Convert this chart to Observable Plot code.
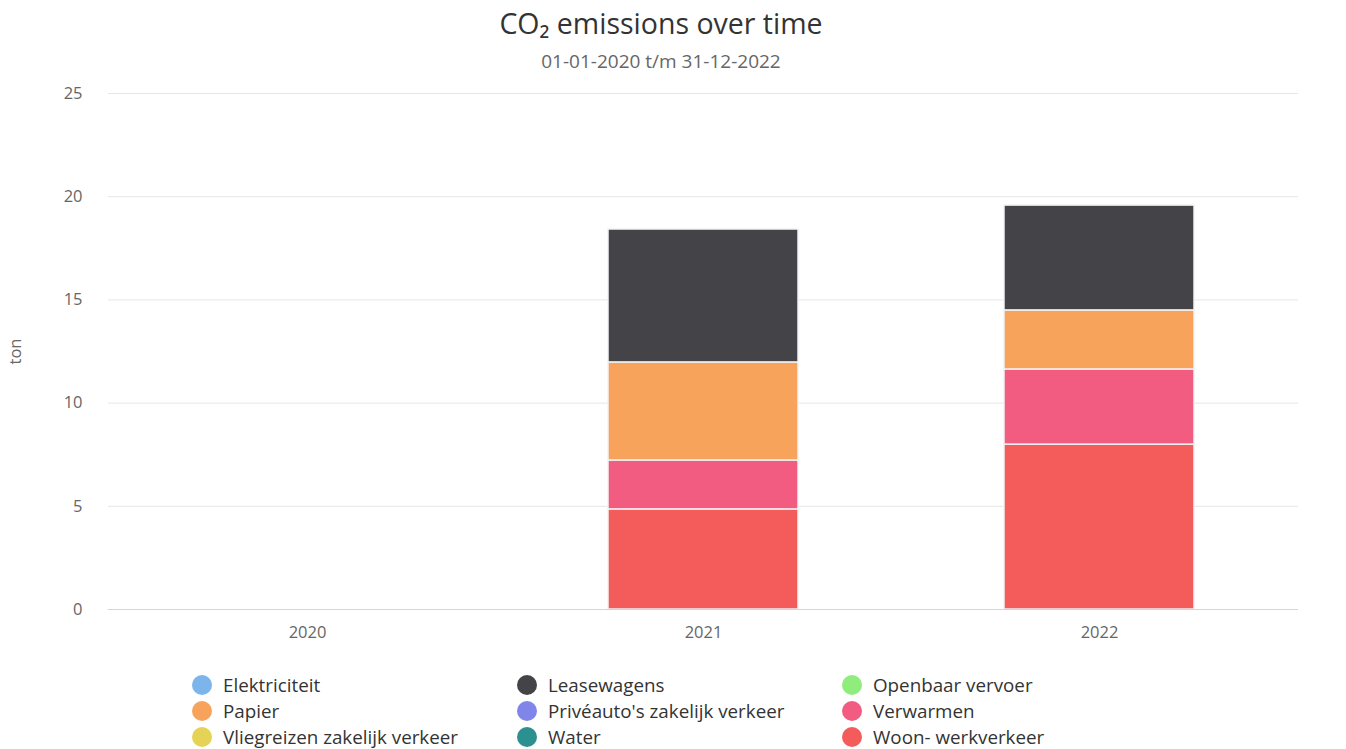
<!DOCTYPE html>
<html>
<head>
<meta charset="utf-8">
<script src="https://cdn.jsdelivr.net/npm/d3@7/dist/d3.min.js"></script>
<script src="https://cdn.jsdelivr.net/npm/@observablehq/plot@0.6/dist/plot.umd.min.js"></script>
<style>
  html, body { margin: 0; padding: 0; background: #fff; font-family: "Open Sans", sans-serif; }
  #wrap { width: 1346px; height: 749px; position: relative; }
  #title { position: absolute; top: 3px; left: 0; width: 1322px; text-align: center; font-size: 28.5px; color: #333; line-height: 40px; }
  #subtitle { position: absolute; top: 48px; left: 0; width: 1322px; text-align: center; font-size: 19px; color: #666; line-height: 26px; }
  #chart { position: absolute; top: 80px; left: 0; }
  #legend { position: absolute; top: 673px; left: 192px; display: grid; grid-template-columns: 325px 325px 325px; row-gap: 3px; }
  .item { display: flex; align-items: center; font-size: 18.8px; color: #333; height: 23px; white-space: nowrap; }
  .dot { width: 20px; height: 20px; border-radius: 50%; margin-right: 11px; flex: none; }
</style>
</head>
<body>
<div id="wrap">
  <div id="title">CO₂ emissions over time</div>
  <div id="subtitle">01-01-2020 t/m 31-12-2022</div>
  <div id="chart"></div>
  <div id="legend"></div>
</div>
<script>
const years = ["2020", "2021", "2022"];
const categories = ["Elektriciteit", "Leasewagens", "Openbaar vervoer", "Papier", "Privéauto's zakelijk verkeer", "Verwarmen", "Vliegreizen zakelijk verkeer", "Water", "Woon- werkverkeer"];
const colors = ["#7cb5ec", "#434348", "#90ed7d", "#f7a35c", "#8085e9", "#f15c80", "#e4d354", "#2b908f", "#f45b5b"];
// stacking order bottom -> top
const stackOrder = ["Woon- werkverkeer", "Verwarmen", "Papier", "Leasewagens"];
const woonWerk   = [0, 4.85, 7.99];
const verwarmen  = [0, 2.37, 3.64];
const papier     = [0, 4.75, 2.86];
const leasewagens = [0, 6.44, 5.08];
const yTicks = [0, 5, 10, 15, 20, 25];

const seriesValues = {"Woon- werkverkeer": woonWerk, "Verwarmen": verwarmen, "Papier": papier, "Leasewagens": leasewagens};
const data = [];
stackOrder.forEach(cat => {
  years.forEach((y, i) => {
    if (seriesValues[cat][i] > 0) data.push({year: y, cat, value: seriesValues[cat][i]});
  });
});

const chart = Plot.plot({
  width: 1346,
  height: 580,
  marginTop: 13,
  marginBottom: 51,
  marginLeft: 108,
  marginRight: 48,
  style: {fontFamily: "Open Sans, sans-serif", fontSize: "16.5px", color: "#666", background: "transparent"},
  x: {domain: years, paddingInner: 0.52, paddingOuter: 0.26, label: null},
  y: {domain: [0, 25], ticks: yTicks, label: "ton"},
  color: {domain: categories, range: colors},
  marks: [
    Plot.gridY(yTicks.filter(d => d > 0), {stroke: "#e6e6e6", strokeOpacity: 1}),
    Plot.barY(data, Plot.stackY({order: stackOrder, x: "year", y: "value", fill: "cat", stroke: "#f2f2f2", strokeWidth: 1.5})),
    Plot.ruleY([0], {stroke: "#ccd6eb", strokeWidth: 1}),
    Plot.axisY({ticks: yTicks, tickSize: 0, tickPadding: 26, label: "ton", labelAnchor: "center", labelArrow: "none", labelOffset: 99, fill: "#666"}),
    Plot.axisX({tickSize: 0, tickPadding: 17, fill: "#666", label: null})
  ]
});
document.getElementById("chart").appendChild(chart);

const legend = document.getElementById("legend");
categories.forEach((c, i) => {
  const item = document.createElement("div");
  item.className = "item";
  item.innerHTML = `<span class="dot" style="background:${colors[i]}"></span><span>${c}</span>`;
  legend.appendChild(item);
});
</script>
</body>
</html>
